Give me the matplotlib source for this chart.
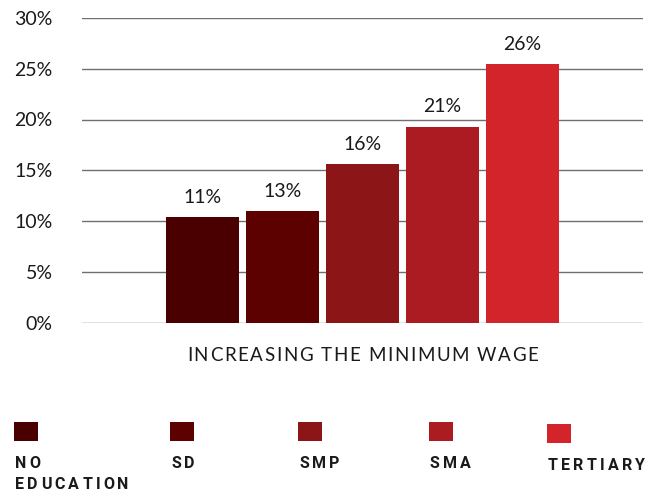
import matplotlib
matplotlib.use('Agg')
import matplotlib.pyplot as plt
import matplotlib.patches as mpatches
from matplotlib.font_manager import FontProperties

# data
categories = ['NO\nEDUCATION', 'SD', 'SMP', 'SMA', 'TERTIARY']
values = [10.4, 11.0, 15.6, 19.3, 25.5]  # bar heights (%)
value_labels = ['11%', '13%', '16%', '21%', '26%']
colors = ['#4a0000', '#5c0000', '#8b1517', '#ac1b21', '#d3232b']
yticks = [0, 5, 10, 15, 20, 25, 30]
xlabel = 'INCREASING THE MINIMUM WAGE'

plt.rcParams['font.family'] = ['Lato', 'DejaVu Sans']

W, H = 657, 493
fig = plt.figure(figsize=(W / 100, H / 100), dpi=100)
renderer = fig.canvas.get_renderer()


def spaced_text(x_px, y_px, s, size, weight='normal', track=0.0, ha='left', family='Lato'):
    # draw a line of text with extra letter spacing (pixel coords, y from top)
    prop = FontProperties(family=family, size=size, weight=weight)
    widths = [renderer.get_text_width_height_descent(ch, prop, ismath=False)[0] for ch in s]
    total = sum(widths) + track * (len(s) - 1)
    x0 = x_px - total / 2 if ha == 'center' else x_px
    for ch, w in zip(s, widths):
        fig.text(x0 / W, 1 - y_px / H, ch, fontproperties=prop, color='#1a1a1a',
                 ha='left', va='baseline')
        x0 += w + track


ax = fig.add_axes([82 / W, 1 - 322.5 / H, (643 - 82) / W, (322.5 - 18) / H])

x = list(range(len(values)))
bars = ax.bar(x, values, width=0.91, color=colors, zorder=3)

for xi, v, lab in zip(x, values, value_labels):
    ax.annotate(lab, (xi, v), xytext=(0, 8), textcoords='offset points',
                ha='center', va='bottom', fontsize=14, color='#1a1a1a')

ax.set_xlim(-1.51, 5.51)
ax.set_ylim(0, 30)
ax.set_yticks(yticks)
ax.set_yticklabels(['{}%'.format(t) for t in yticks], fontsize=14, color='#1a1a1a')
ax.set_xticks([])
ax.yaxis.grid(True, color='#707070', linewidth=1.0, zorder=0)
ax.tick_params(axis='y', length=0, pad=21)
for s in ax.spines.values():
    s.set_visible(False)

spaced_text(362.5, 361, xlabel, 13.5, track=1.6, ha='center')

# legend row
leg_x = [14, 170, 298, 429, 547]
leg_y = [422, 422, 422, 422, 424]
for lx, ly, c, name in zip(leg_x, leg_y, colors, categories):
    fig.patches.append(mpatches.Rectangle((lx / W, 1 - (ly + 19) / H), 24 / W, 19 / H,
                                          transform=fig.transFigure, facecolor=c,
                                          edgecolor='none'))
    for i, line in enumerate(name.split('\n')):
        spaced_text(lx + 1, ly + 46 + i * 21, line, 11.5, weight='bold', track=3.2,
                    family='Roboto')

fig.savefig('out.png', dpi=100)
